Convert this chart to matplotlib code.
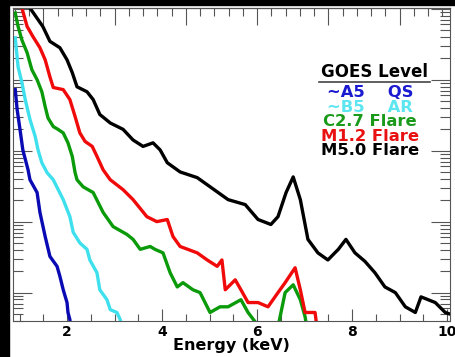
import numpy as np
import matplotlib.pyplot as plt
from matplotlib.patches import Rectangle
from matplotlib.ticker import MultipleLocator, LogLocator, NullFormatter

# energies (keV) and log10 counts
e_a5 = [0.91, 0.95, 1.01, 1.07, 1.18, 1.22, 1.37, 1.43, 1.54, 1.64, 1.79, 1.85, 1.92, 2.0, 2.02, 2.06, 2.1]
y_a5 = [3.86, 3.58, 3.30, 3.01, 2.73, 2.59, 2.41, 2.13, 1.79, 1.51, 1.37, 1.23, 1.04, 0.86, 0.72, 0.62, 0.3]

e_b5 = [0.91, 0.97, 1.05, 1.12, 1.22, 1.33, 1.39, 1.47, 1.58, 1.71, 1.92, 2.06, 2.13, 2.27, 2.42,
        2.48, 2.63, 2.69, 2.84, 2.91, 3.05, 3.12, 3.2]
y_b5 = [4.59, 4.18, 3.96, 3.72, 3.44, 3.20, 3.01, 2.83, 2.69, 2.59, 2.31, 2.07, 1.85, 1.70, 1.61,
        1.46, 1.28, 1.04, 0.90, 0.76, 0.72, 0.62, 0.3]

e_c27 = [0.91, 0.97, 1.05, 1.16, 1.26, 1.37, 1.47, 1.54, 1.60, 1.71, 1.81, 1.92, 2.02, 2.11, 2.17,
         2.21, 2.34, 2.55, 2.76, 2.97, 3.26, 3.39, 3.54, 3.75, 3.85, 4.02, 4.17, 4.32, 4.44, 4.65,
         4.80, 5.01, 5.22, 5.39, 5.66, 5.81, 6.06, 6.45, 6.59, 6.76, 6.91, 7.01, 7.1]
y_c27 = [4.94, 4.75, 4.56, 4.38, 4.14, 4.00, 3.83, 3.62, 3.46, 3.34, 3.30, 3.25, 3.11, 2.92, 2.69,
         2.59, 2.49, 2.41, 2.13, 1.93, 1.82, 1.75, 1.61, 1.65, 1.61, 1.56, 1.28, 1.08, 1.14, 1.04,
         1.00, 0.72, 0.80, 0.80, 0.90, 0.72, 0.50, 0.55, 1.00, 1.11, 0.90, 0.66, 0.3]

e_m12 = [1.05, 1.16, 1.28, 1.43, 1.54, 1.64, 1.71, 1.92, 2.06, 2.17, 2.27, 2.38, 2.53, 2.63, 2.76,
         2.91, 3.18, 3.39, 3.68, 3.89, 4.11, 4.23, 4.38, 4.74, 4.95, 5.16, 5.26, 5.33, 5.54, 5.66,
         5.81, 6.02, 6.23, 6.44, 6.59, 6.80, 6.91, 7.01, 7.22, 7.3]
y_m12 = [5.01, 4.75, 4.61, 4.45, 4.28, 4.04, 3.89, 3.86, 3.72, 3.48, 3.25, 3.13, 3.06, 2.92, 2.73,
         2.59, 2.45, 2.31, 2.07, 2.00, 2.03, 1.79, 1.65, 1.56, 1.46, 1.37, 1.46, 1.04, 1.18, 1.04,
         0.86, 0.86, 0.80, 1.00, 1.14, 1.35, 1.04, 0.72, 0.72, 0.3]

e_m50 = [1.22, 1.49, 1.64, 1.85, 2.0, 2.11, 2.21, 2.42, 2.55, 2.69, 2.91, 3.18, 3.39, 3.60, 3.81,
         3.96, 4.11, 4.38, 4.74, 5.39, 5.75, 6.02, 6.29, 6.44, 6.61, 6.76, 6.91, 7.07, 7.28, 7.49,
         7.71, 7.87, 8.06, 8.27, 8.48, 8.69, 8.91, 9.12, 9.33, 9.45, 9.75, 9.96, 10.05]
y_m50 = [5.01, 4.75, 4.54, 4.45, 4.28, 4.10, 3.90, 3.83, 3.72, 3.51, 3.39, 3.30, 3.15, 3.06, 3.11,
         3.01, 2.83, 2.70, 2.62, 2.31, 2.24, 2.03, 1.96, 2.07, 2.41, 2.63, 2.31, 1.75, 1.56, 1.46,
         1.61, 1.75, 1.56, 1.44, 1.28, 1.08, 1.00, 0.80, 0.72, 0.94, 0.86, 0.72, 0.70]

series = [
    (e_a5, y_a5, "#0a0ab4"),
    (e_b5, y_b5, "#3fe0ee"),
    (e_c27, y_c27, "#0a9a0a"),
    (e_m12, y_m12, "#f00a0a"),
    (e_m50, y_m50, "black"),
]

legend_rows = [("~A5    QS", "#1a1ad0"), ("~B5    AR", "#5ee6f0"),
               ("C2.7 Flare", "#1a9a1a"), ("M1.2 Flare", "#e81010"), ("M5.0 Flare", "black")]

plt.rcParams['font.family'] = ['DejaVu Sans']

fig = plt.figure(figsize=(4.56, 3.57), dpi=100, facecolor="white")
ax = fig.add_axes([13 / 456, 36 / 357, 437 / 456, 313 / 357])

for e, y, c in series:
    ax.plot(e, 10 ** np.array(y), color=c, lw=2.4)

ax.set_yscale("log")
ax.set_xlim(0.863, 10.06)
ax.set_ylim(10 ** 0.6, 10 ** 5.01)

ax.xaxis.set_major_locator(MultipleLocator(2))
ax.xaxis.set_minor_locator(MultipleLocator(0.5))
ax.yaxis.set_major_locator(LogLocator(base=10))
ax.yaxis.set_minor_locator(LogLocator(base=10, subs=np.arange(2, 10)))
ax.yaxis.set_major_formatter(NullFormatter())
ax.yaxis.set_minor_formatter(NullFormatter())
ax.tick_params(axis="both", which="both", direction="in", color="#555555", width=0.8)
ax.tick_params(axis="x", which="major", length=9, labelsize=10, pad=3)
ax.tick_params(axis="x", which="minor", length=5)
ax.tick_params(axis="y", which="major", length=14, right=True)
ax.tick_params(axis="y", which="minor", length=7, right=True)
for lab in ax.get_xticklabels():
    lab.set_fontweight("bold")
for s in ax.spines.values():
    s.set_color("#555555")
    s.set_linewidth(0.8)

# top axis has its own tick spacing
top = ax.secondary_xaxis("top")
top.xaxis.set_major_locator(MultipleLocator(1.5))
top.xaxis.set_minor_locator(MultipleLocator(0.3))
top.xaxis.set_major_formatter(NullFormatter())
top.tick_params(which="both", direction="in", color="#555555", width=0.8)
top.tick_params(which="major", length=12)
top.tick_params(which="minor", length=6)

ax.set_xlabel("Energy (keV)", fontsize=11.5, fontweight="bold", labelpad=-1)

# hand made legend
ax.text(0.828, 0.796, "GOES Level", transform=ax.transAxes, ha="center", va="center",
        fontsize=12, fontweight="bold")
ax.plot([0.70, 0.955], [0.763, 0.763], transform=ax.transAxes, color="#444444", lw=1.2)
for i, (txt, c) in enumerate(legend_rows):
    ax.text(0.817, 0.730 - i * 0.0465, txt, transform=ax.transAxes, ha="center", va="center",
            fontsize=11.8, fontweight="bold", color=c)

# dark borders of the cropped scan
fig.patches.append(Rectangle((0, 352 / 357), 1, 5 / 357, transform=fig.transFigure,
                             color="black", zorder=10))
fig.patches.append(Rectangle((0, 0), 9 / 456, 1, transform=fig.transFigure,
                             color="black", zorder=10))

fig.savefig("out.png", dpi=100, facecolor="white")
